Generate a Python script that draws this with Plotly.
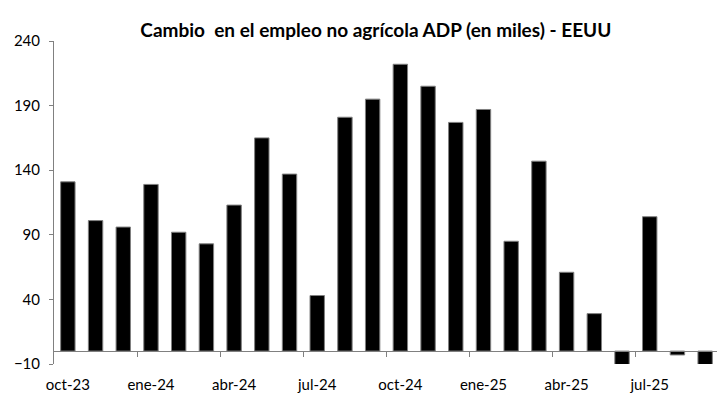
import plotly.graph_objects as go

months = ["oct-23","nov-23","dic-23","ene-24","feb-24","mar-24","abr-24","may-24","jun-24",
          "jul-24","ago-24","sep-24","oct-24","nov-24","dic-24","ene-25","feb-25","mar-25",
          "abr-25","may-25","jun-25","jul-25","ago-25","sep-25"]
values = [131, 101, 96, 129, 92, 83, 113, 165, 137, 43, 181, 195, 222, 205, 177, 187,
          85, 147, 61, 29, -12, 104, -3, -12]
tick_labels = ["oct-23","ene-24","abr-24","jul-24","oct-24","ene-25","abr-25","jul-25"]

idx = list(range(len(months)))
label_pos = idx[0::3]
sep_pos = [i + 2.5 for i in idx[0::3]]

ymin, ymax = -10, 240
zero_frac = (0 - ymin) / (ymax - ymin)

fig = go.Figure()
fig.add_trace(go.Bar(x=idx, y=values, marker=dict(color="black", line=dict(color="#808080", width=1)),
                     width=0.52, hovertext=months, showlegend=False))
fig.add_trace(go.Scatter(x=[idx[0], idx[-1]], y=[0, 0], xaxis="x2", mode="lines",
                         line=dict(width=0), hoverinfo="skip", showlegend=False))

font = "Lato, Open Sans, sans-serif"
# page body has an 8px default margin, so the figure is 8px smaller
fig.update_layout(
    width=717, height=391,
    margin=dict(l=45, r=6, t=33, b=28),
    paper_bgcolor="white", plot_bgcolor="white",
    title=dict(text="<b>Cambio  en el empleo no agrícola ADP (en miles) - EEUU</b>",
               x=0.513, xanchor="center", y=0.942, yanchor="middle",
               font=dict(family=font, size=19, color="black")),
    font=dict(family=font, size=15, color="black"),
    xaxis=dict(range=[-0.5, len(months) - 0.5], tickvals=label_pos, ticktext=tick_labels,
               showline=False, ticks="", showgrid=False, zeroline=False,
               ticklabelstandoff=10, tickfont=dict(size=15)),
    xaxis2=dict(range=[-0.5, len(months) - 0.5], overlaying="x", anchor="free",
                position=zero_frac, side="bottom", showline=True, linecolor="#808080",
                linewidth=1, ticks="outside", ticklen=5, tickcolor="#808080",
                tickvals=sep_pos, showticklabels=False, showgrid=False, zeroline=False),
    yaxis=dict(range=[ymin, ymax], dtick=50, tick0=-10, showline=True, linecolor="#808080",
               ticks="outside", ticklen=4, tickcolor="#808080", showgrid=False,
               zeroline=False, ticklabelstandoff=6, tickfont=dict(size=15)),
    bargap=0.48,
)
fig.write_html("out.html")
